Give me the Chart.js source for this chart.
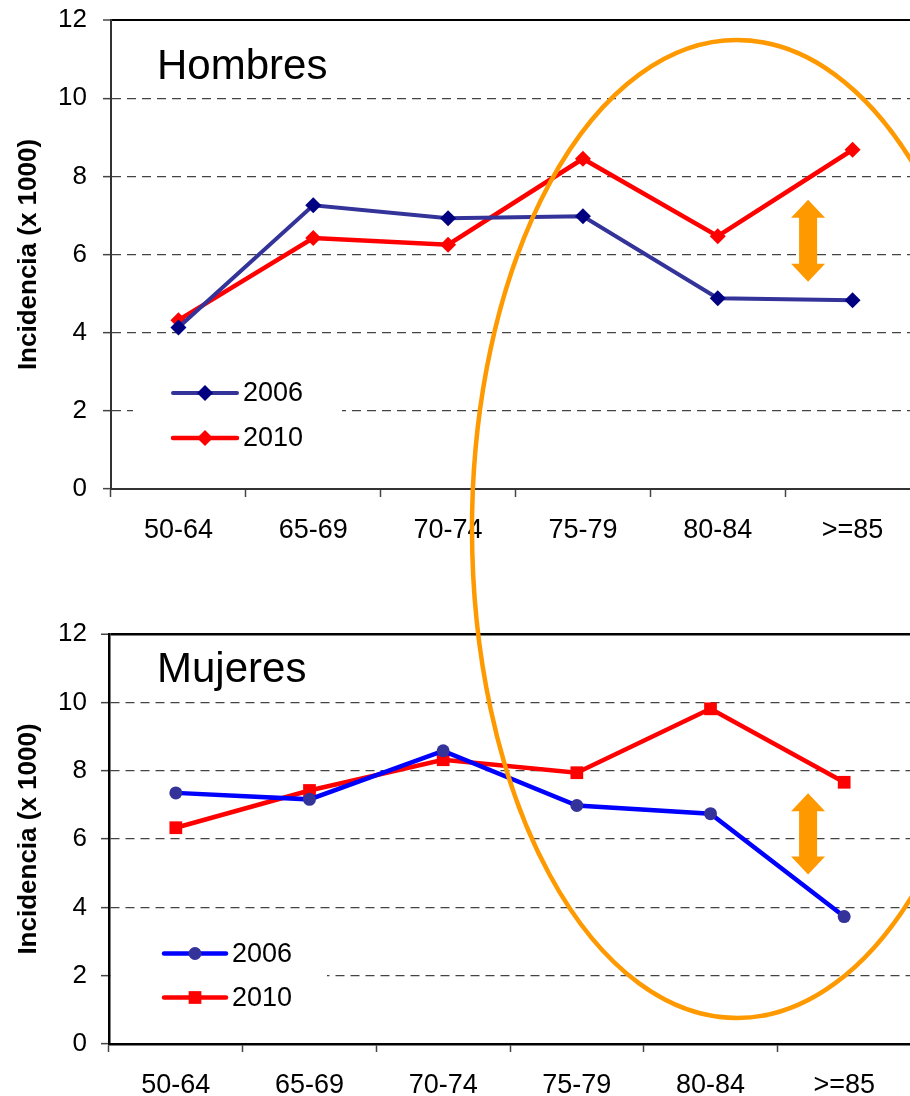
<!DOCTYPE html>
<html>
<head>
<meta charset="utf-8">
<script src="https://cdn.jsdelivr.net/npm/chart.js@4.4.1/dist/chart.umd.min.js"></script>
<style>
  html, body { margin: 0; padding: 0; background: #fff; overflow: hidden; }
  #wrap { position: relative; width: 910px; height: 1096px; overflow: hidden; }
  .box { position: absolute; left: 0; }
  #box-hombres { top: 0; }
  #box-mujeres { top: 574px; }
  #overlay { position: absolute; left: 0; top: 0; pointer-events: none; }
</style>
</head>
<body>
<div id="wrap">
  <div class="box" id="box-hombres"><canvas id="chart-hombres" width="930" height="560"></canvas></div>
  <div class="box" id="box-mujeres"><canvas id="chart-mujeres" width="930" height="522"></canvas></div>
  <svg id="overlay" width="910" height="1096">
    <ellipse cx="737" cy="529" rx="265" ry="489" fill="none" stroke="#FF9900" stroke-width="4.5"/>
  </svg>
</div>
<script>
/* ============================================================
   DATA  (incidence x 1000)
============================================================ */
const ageGroups = ['50-64', '65-69', '70-74', '75-79', '80-84', '>=85'];
const yTicks = [0, 2, 4, 6, 8, 10, 12];
const seriesYears = ['2006', '2010'];

const hombres2006 = [4.13, 7.26, 6.93, 6.98, 4.88, 4.83];
const hombres2010 = [4.32, 6.42, 6.25, 8.45, 6.47, 8.68];
const mujeres2006 = [7.35, 7.16, 8.58, 6.98, 6.74, 3.73];
const mujeres2010 = [6.33, 7.42, 8.32, 7.94, 9.81, 7.66];

// gap arrows: [top value, bottom value]
const arrowHombres = [7.40, 5.30];
const arrowMujeres = [7.34, 4.96];

const FONT = "'Liberation Sans', Arial, sans-serif";
Chart.defaults.font.family = FONT;

/* ============================================================
   SMALL DRAWING HELPERS
============================================================ */
function marker(ctx, style, x, y, r, color) {
  ctx.save();
  ctx.fillStyle = color;
  ctx.beginPath();
  if (style === 'rectRot') {
    ctx.moveTo(x, y - r); ctx.lineTo(x + r, y); ctx.lineTo(x, y + r); ctx.lineTo(x - r, y);
  } else if (style === 'rect') {
    const s = r * Math.SQRT1_2;
    ctx.rect(x - s, y - s, 2 * s, 2 * s);
  } else {
    ctx.arc(x, y, r, 0, Math.PI * 2);
  }
  ctx.closePath();
  ctx.fill();
  ctx.restore();
}

// in-plot legend, sex label and the orange double arrow
const decorPlugin = {
  id: 'decor',
  beforeDatasetsDraw(chart, args, o) {
    const a = chart.chartArea, ctx = chart.ctx;
    ctx.save();
    ctx.fillStyle = '#fff';
    ctx.fillRect(a.left + o.blank[0], a.bottom - o.blank[1], o.blank[2], o.blank[3]);
    ctx.restore();
  },
  afterDatasetsDraw(chart, args, o) {
    const a = chart.chartArea, ctx = chart.ctx;
    // title inside plot
    ctx.save();
    ctx.fillStyle = '#000';
    ctx.font = '42px ' + FONT;
    ctx.textBaseline = 'alphabetic';
    ctx.fillText(o.title, a.left + o.titlePos[0], a.top + o.titlePos[1]);
    ctx.restore();

    // legend
    chart.data.datasets.forEach((ds, i) => {
      const y = a.bottom - o.legendRows[i];
      const x0 = a.left + o.legendX[0], x1 = a.left + o.legendX[1];
      ctx.save();
      ctx.strokeStyle = ds.borderColor;
      ctx.lineWidth = ds.borderWidth;
      ctx.lineCap = 'round';
      ctx.beginPath(); ctx.moveTo(x0, y); ctx.lineTo(x1, y); ctx.stroke();
      ctx.restore();
      marker(ctx, ds.pointStyle, (x0 + x1) / 2, y, ds.pointRadius, ds.pointBackgroundColor);
      ctx.save();
      ctx.fillStyle = '#000';
      ctx.font = '27px ' + FONT;
      ctx.textBaseline = 'middle';
      ctx.fillText(ds.label, x1 + 6, y + 1);
      ctx.restore();
    });

    // double arrow
    const xs = chart.scales.x, ys = chart.scales.y;
    const cx = xs.getPixelForValue(4) + o.arrowFrac * (xs.getPixelForValue(5) - xs.getPixelForValue(4));
    const yt = ys.getPixelForValue(o.arrow[0]), yb = ys.getPixelForValue(o.arrow[1]);
    const hw = 17, sw = 9, hh = 18;
    ctx.save();
    ctx.fillStyle = '#FF9900';
    ctx.beginPath();
    ctx.moveTo(cx, yt);
    ctx.lineTo(cx + hw, yt + hh); ctx.lineTo(cx + sw, yt + hh);
    ctx.lineTo(cx + sw, yb - hh); ctx.lineTo(cx + hw, yb - hh);
    ctx.lineTo(cx, yb);
    ctx.lineTo(cx - hw, yb - hh); ctx.lineTo(cx - sw, yb - hh);
    ctx.lineTo(cx - sw, yt + hh); ctx.lineTo(cx - hw, yt + hh);
    ctx.closePath();
    ctx.fill();
    ctx.restore();
  }
};

/* ============================================================
   CHART BUILDER
============================================================ */
function buildChart(id, cfg) {
  return new Chart(document.getElementById(id), {
    type: 'line',
    data: {
      labels: ageGroups,
      datasets: cfg.series.map(s => ({
        label: s.label,
        data: s.data,
        borderColor: s.line,
        backgroundColor: s.marker,
        pointBackgroundColor: s.marker,
        pointBorderColor: s.marker,
        pointBorderWidth: 0,
        pointStyle: s.style,
        pointRadius: s.radius,
        borderWidth: s.width,
        tension: 0,
        fill: false,
      }))
    },
    options: {
      responsive: false,
      animation: false,
      devicePixelRatio: 1,
      layout: { padding: cfg.padding },
      plugins: {
        legend: { display: false },
        tooltip: { enabled: false },
        decor: cfg.decor,
      },
      scales: {
        x: {
          offset: true,
          grid: { drawOnChartArea: false, drawTicks: true, tickLength: 8, tickColor: '#444', tickWidth: 1.5, offset: true },
          border: { display: true, color: cfg.axisColor, width: cfg.axisWidth },
          ticks: { color: '#000', font: { size: 27 }, padding: 17, maxRotation: 0, autoSkip: false },
          afterFit: s => { s.height = cfg.xHeight; s.paddingLeft = 0; s.paddingRight = 0; },
        },
        y: {
          min: 0,
          max: 12,
          afterBuildTicks: s => { s.ticks = yTicks.map(v => ({ value: v })); },
          afterFit: s => { s.width = cfg.yWidth; s.paddingTop = 0; s.paddingBottom = 0; },
          grid: {
            color: c => c.tick.value === 12 ? '#000' : (c.tick.value === 0 ? 'rgba(0,0,0,0)' : '#444'),
            lineWidth: c => c.tick.value === 12 ? cfg.axisWidth : 1.3,
            tickLength: 8,
            tickColor: '#444',
            tickWidth: 1.5,
          },
          border: {
            display: true, color: cfg.axisColor, width: cfg.axisWidth,
            dash: c => (c.tick && c.tick.value === 12) ? [] : [9, 6],
          },
          ticks: { color: '#000', font: { size: 26 }, padding: cfg.yPad },
          title: {
            display: true,
            text: 'Incidencia (x 1000)',
            color: '#000',
            font: { size: 26, weight: 'bold' },
            padding: { top: 13, bottom: 0 },
          },
        }
      }
    },
    plugins: [decorPlugin]
  });
}

// Hombres — diamonds
buildChart('chart-hombres', {
  padding: { left: 0, top: 20, right: 10, bottom: 11 },
  yWidth: 111, xHeight: 60, yPad: 16,
  axisColor: '#333', axisWidth: 2,
  series: [
    { label: seriesYears[0], data: hombres2006, line: '#333399', marker: '#000080', style: 'rectRot', radius: 8, width: 4 },
    { label: seriesYears[1], data: hombres2010, line: '#FF0000', marker: '#FF0000', style: 'rectRot', radius: 8, width: 4.5 },
  ],
  decor: {
    title: 'Hombres', titlePos: [46, 59],
    legendX: [62, 126], legendRows: [96, 51],
    blank: [22, 130, 209, 100],
    arrow: arrowHombres, arrowFrac: 0.67,
  }
});

// Mujeres — circles / squares
buildChart('chart-mujeres', {
  padding: { left: 0, top: 60, right: 19, bottom: 0 },
  yWidth: 109, xHeight: 52, yPad: 14,
  axisColor: '#000', axisWidth: 2.5,
  series: [
    { label: seriesYears[0], data: mujeres2006, line: '#0000FF', marker: '#333399', style: 'circle', radius: 6.5, width: 4.5 },
    { label: seriesYears[1], data: mujeres2010, line: '#FF0000', marker: '#FF0000', style: 'rect', radius: 9, width: 4.5 },
  ],
  decor: {
    title: 'Mujeres', titlePos: [48, 48],
    legendX: [55, 117], legendRows: [90.5, 46.5],
    blank: [2, 120, 216, 95],
    arrow: arrowMujeres, arrowFrac: 0.73,
  }
});
</script>
</body>
</html>
